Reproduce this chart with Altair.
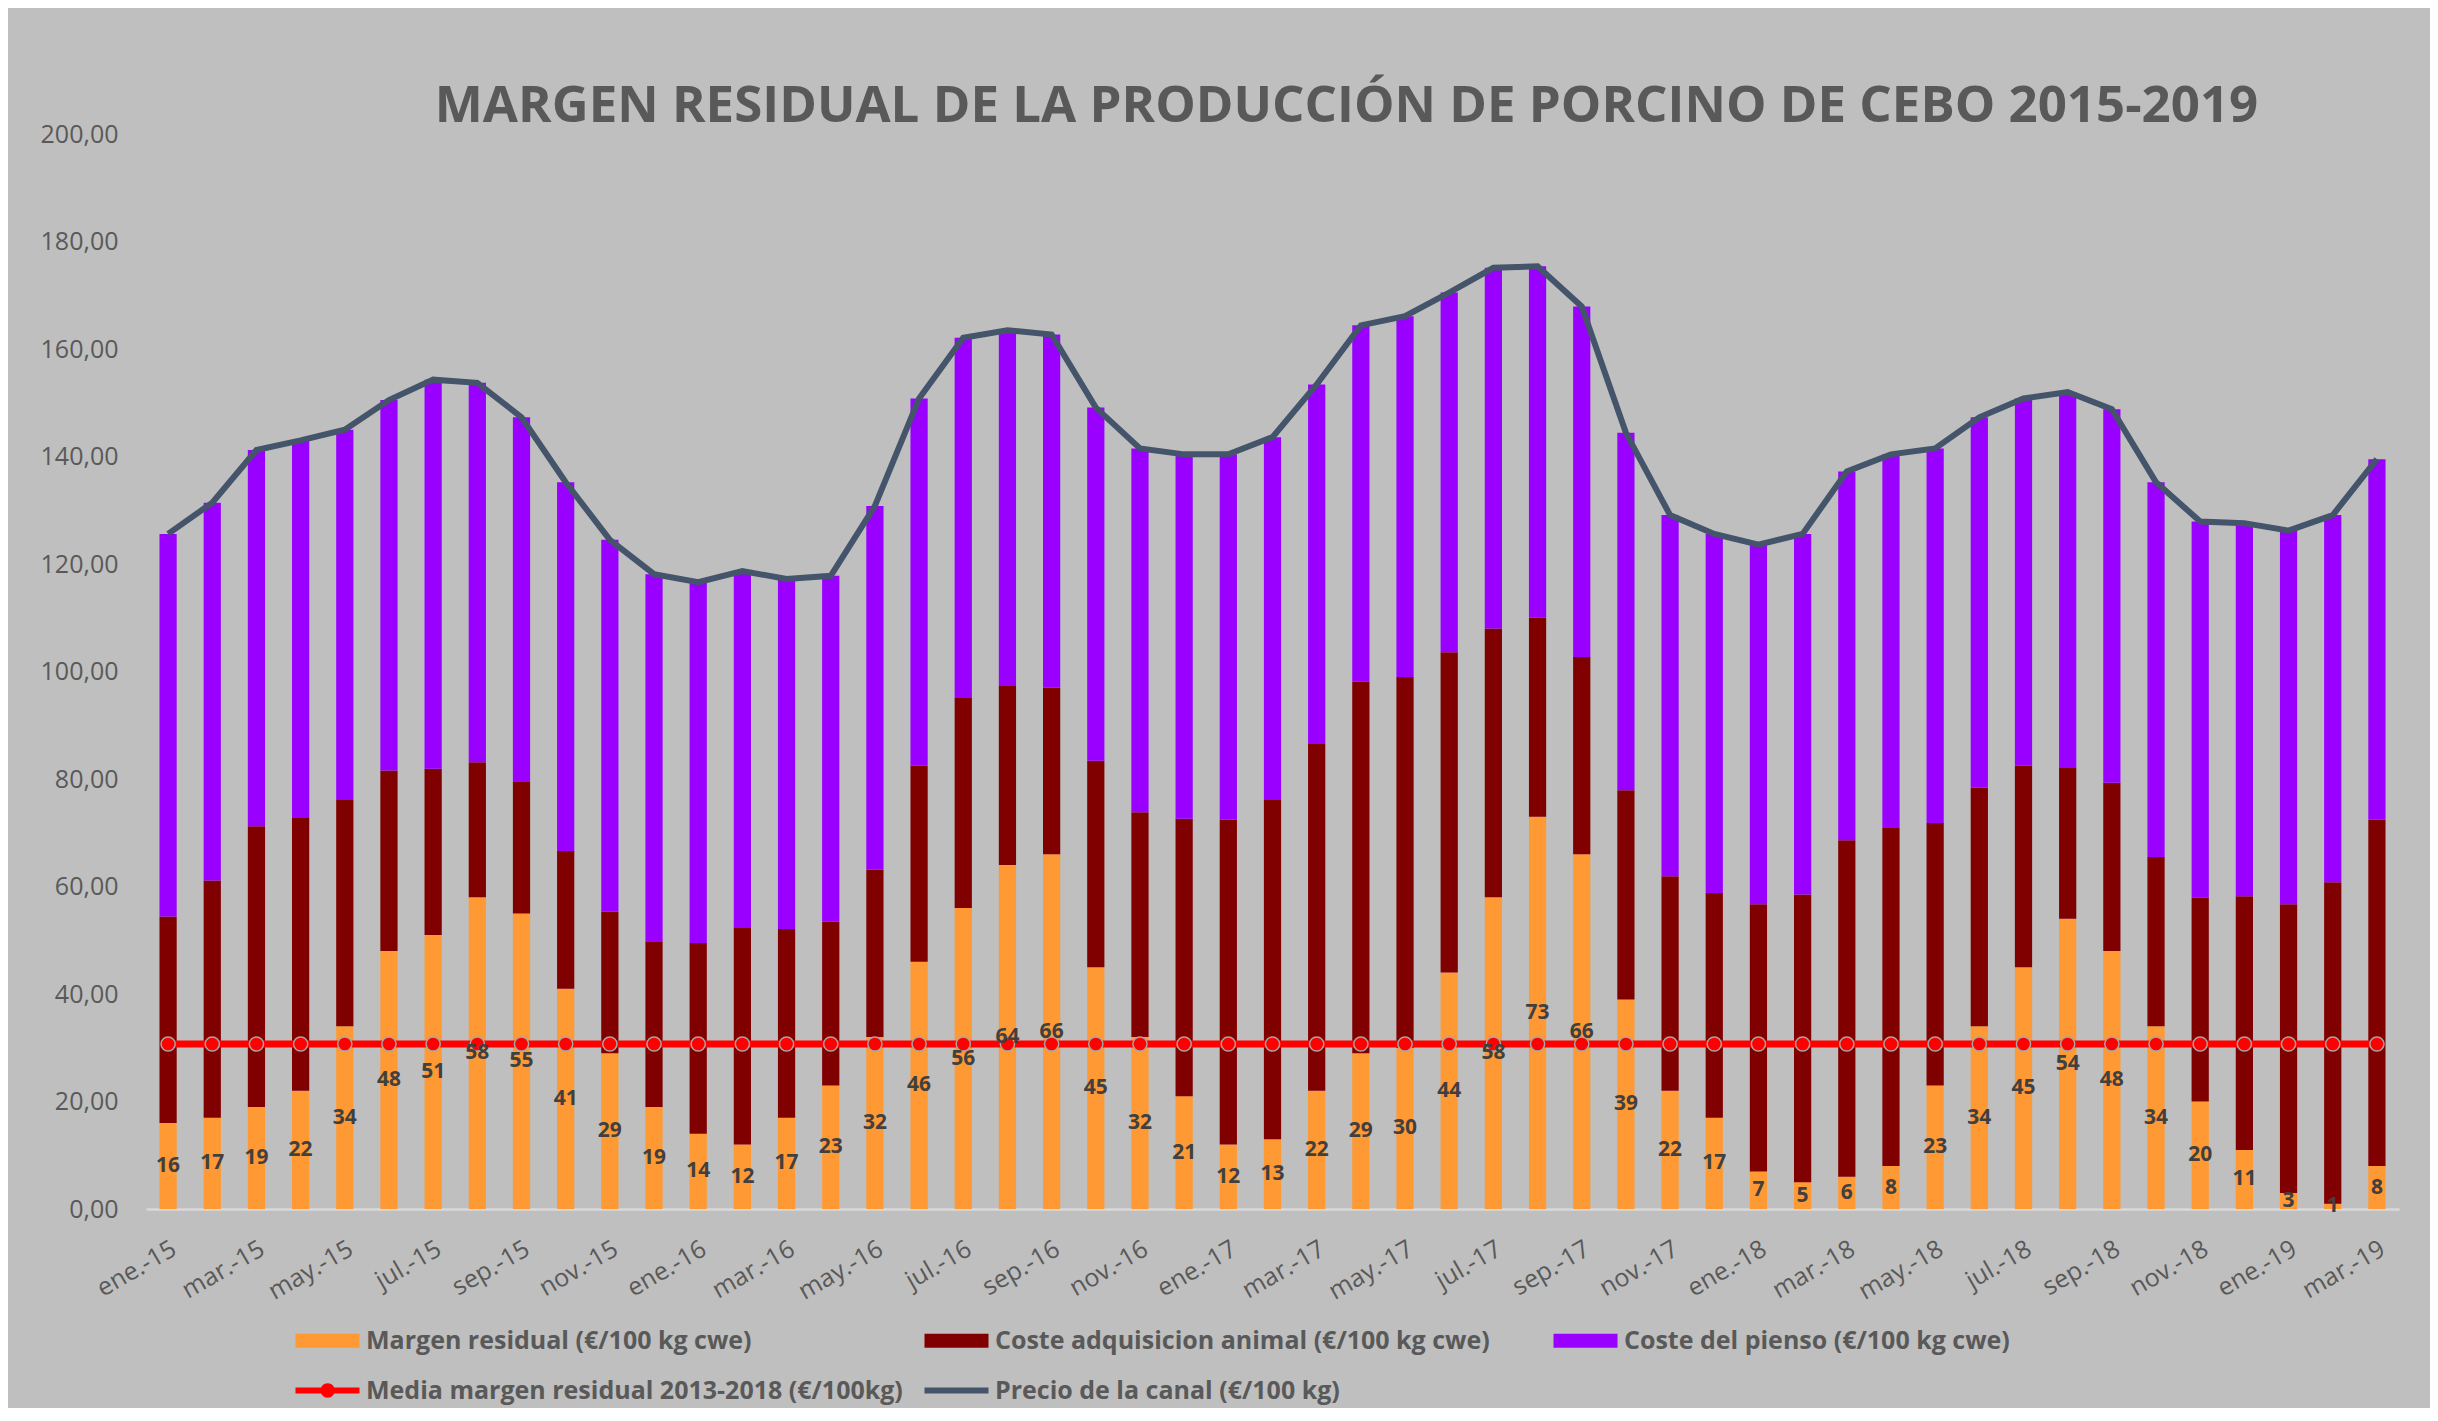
import altair as alt
import pandas as pd

MESES = [
    "ene.-15", "feb.-15", "mar.-15", "abr.-15", "may.-15", "jun.-15", "jul.-15", "ago.-15", "sep.-15", "oct.-15", "nov.-15", "dic.-15",
    "ene.-16", "feb.-16", "mar.-16", "abr.-16", "may.-16", "jun.-16", "jul.-16", "ago.-16", "sep.-16", "oct.-16", "nov.-16", "dic.-16",
    "ene.-17", "feb.-17", "mar.-17", "abr.-17", "may.-17", "jun.-17", "jul.-17", "ago.-17", "sep.-17", "oct.-17", "nov.-17", "dic.-17",
    "ene.-18", "feb.-18", "mar.-18", "abr.-18", "may.-18", "jun.-18", "jul.-18", "ago.-18", "sep.-18", "oct.-18", "nov.-18", "dic.-18",
    "ene.-19", "feb.-19", "mar.-19",
]
EJE_X = ["ene.-15", "mar.-15", "may.-15", "jul.-15", "sep.-15", "nov.-15",
         "ene.-16", "mar.-16", "may.-16", "jul.-16", "sep.-16", "nov.-16",
         "ene.-17", "mar.-17", "may.-17", "jul.-17", "sep.-17", "nov.-17",
         "ene.-18", "mar.-18", "may.-18", "jul.-18", "sep.-18", "nov.-18",
         "ene.-19", "mar.-19"]
EJE_Y = [0, 20, 40, 60, 80, 100, 120, 140, 160, 180, 200]

MARGEN = [16, 17, 19, 22, 34, 48, 51, 58, 55, 41, 29, 19,
          14, 12, 17, 23, 32, 46, 56, 64, 66, 45, 32, 21,
          12, 13, 22, 29, 30, 44, 58, 73, 66, 39, 22, 17,
          7, 5, 6, 8, 23, 34, 45, 54, 48, 34, 20, 11,
          3, 1, 8]
COSTE_ANIMAL = [38.4, 44.1, 52.2, 50.9, 42.1, 33.6, 30.9, 25.1, 24.6, 25.6, 26.3, 30.8,
                35.5, 40.4, 35.1, 30.5, 31.1, 36.5, 39.2, 33.3, 31.0, 38.4, 41.8, 51.6,
                60.4, 63.1, 64.5, 69.1, 69.0, 59.6, 50.0, 37.0, 36.7, 38.9, 39.9, 41.8,
                49.7, 53.5, 62.6, 62.9, 48.8, 44.4, 37.5, 28.2, 31.3, 31.5, 37.9, 47.2,
                53.7, 59.8, 64.4]
COSTE_PIENSO = [71.2, 70.3, 70.0, 70.1, 68.9, 68.9, 72.4, 70.6, 67.7, 68.6, 69.2, 68.3,
                67.1, 66.3, 65.1, 64.3, 67.7, 68.3, 66.9, 66.2, 65.7, 65.7, 67.7, 67.8,
                68.0, 67.5, 66.9, 66.3, 67.1, 66.9, 67.1, 65.4, 65.2, 66.5, 67.2, 66.8,
                66.9, 67.1, 68.6, 69.5, 69.7, 68.9, 68.3, 69.8, 69.5, 69.7, 70.0, 69.4,
                69.5, 68.3, 67.1]
PRECIO = [125.6, 131.4, 141.2, 143.0, 145.0, 150.5, 154.3, 153.7, 147.3, 135.2, 124.5, 118.1,
          116.6, 118.7, 117.2, 117.8, 130.8, 150.8, 162.1, 163.5, 162.7, 149.1, 141.5, 140.4,
          140.4, 143.6, 153.4, 164.4, 166.1, 170.5, 175.1, 175.4, 167.9, 144.4, 129.1, 125.6,
          123.6, 125.6, 137.2, 140.4, 141.5, 147.3, 150.8, 152.0, 148.8, 135.2, 127.9, 127.6,
          126.2, 129.1, 139.5]
MEDIA = 30.7

S_MARGEN = "Margen residual (€/100 kg cwe)"
S_ANIMAL = "Coste adquisicion animal (€/100 kg cwe)"
S_PIENSO = "Coste del pienso (€/100 kg cwe)"
S_MEDIA = "Media margen residual 2013-2018 (€/100kg)"
S_PRECIO = "Precio de la canal (€/100 kg)"

# legend order (filled column by column: 2 rows x 3 columns)
SERIES = [S_MARGEN, S_MEDIA, S_ANIMAL, S_PRECIO, S_PIENSO]
COLORES = ["#FF9933", "#FF0000", "#800000", "#44546A", "#9900FF"]

TITULO = "MARGEN RESIDUAL DE LA PRODUCCIÓN DE PORCINO DE CEBO 2015-2019"

# ---- tables ----
rows = []
for i, m in enumerate(MESES):
    for k, (s, vals) in enumerate([(S_MARGEN, MARGEN), (S_ANIMAL, COSTE_ANIMAL), (S_PIENSO, COSTE_PIENSO)]):
        rows.append({"mes": m, "serie": s, "valor": vals[i], "orden": k})
df_bars = pd.DataFrame(rows)
df_lin = pd.DataFrame({"mes": MESES, "precio": PRECIO, "margen": MARGEN,
                       "media": [MEDIA] * len(MESES)})

FONT = "Open Sans"
GRIS = "#595959"

xscale = alt.Scale(domain=MESES, paddingInner=0.61, paddingOuter=0.305)
xaxis = alt.Axis(values=EJE_X, title=None, labelAngle=330, labelAlign="right",
                 labelBaseline="top", labelPadding=27, labelFont=FONT, labelFontSize=25,
                 labelColor=GRIS, ticks=False, domainColor="#D9D9D9", domainWidth=2.5,
                 grid=False)
yscale = alt.Scale(domain=[0, 200], nice=False, zero=True)
yaxis = alt.Axis(values=EJE_Y, title=None, labelFont=FONT, labelFontSize=25, labelColor=GRIS,
                 ticks=False, tickSize=0, domain=False, grid=False, labelPadding=28,
                 labelExpr="replace(format(datum.value, '.2f'), '.', ',')")

# legend symbol paths (size 400 -> unit = 10px; symbol spans 0..64px)
P_RECT = "M-1,-0.7H5.4V0.7H-1Z"
P_MEDIA = "M-1,-0.3H5.4V0.3H-1Z M1.5,0A0.72,0.72 0 1,1 2.94,0A0.72,0.72 0 1,1 1.5,0Z"
P_LINEA = "M-1,-0.3H5.4V0.3H-1Z"
shape_expr = ("datum.label === '%s' ? '%s' : (datum.label === '%s' ? '%s' : '%s')"
              % (S_MEDIA, P_MEDIA, S_PRECIO, P_LINEA, P_RECT))

legend = alt.Legend(
    title=None, orient="none", legendX=147, legendY=1194, columns=3, gridAlign="all",
    columnPadding=19, rowPadding=24, symbolSize=400, symbolStrokeWidth=0,
    symbolType=alt.ExprRef(shape_expr), symbolOpacity=1,
    labelOffset=48, labelFont=FONT, labelFontSize=25, labelFontWeight="bold",
    labelColor=GRIS, labelLimit=1200, padding=0,
)

bars = alt.Chart(df_bars).mark_bar().encode(
    x=alt.X("mes:N", scale=xscale, axis=xaxis),
    y=alt.Y("valor:Q", stack="zero", scale=yscale, axis=yaxis),
    color=alt.Color("serie:N", scale=alt.Scale(domain=SERIES, range=COLORES), legend=legend),
    order=alt.Order("orden:Q", sort="ascending"),
)

precio = alt.Chart(df_lin).mark_line(color="#44546A", strokeWidth=6).encode(
    x=alt.X("mes:N", scale=xscale, axis=xaxis),
    y=alt.Y("precio:Q", scale=yscale, axis=yaxis),
)

media_line = alt.Chart(df_lin).mark_line(color="#FF0000", strokeWidth=7).encode(
    x=alt.X("mes:N", scale=xscale, axis=xaxis),
    y=alt.Y("media:Q", scale=yscale, axis=yaxis),
)
media_pts = alt.Chart(df_lin).mark_circle(size=200, color="#FF0000", opacity=1,
                                          stroke="#A6A6A6", strokeWidth=1.5).encode(
    x=alt.X("mes:N", scale=xscale, axis=xaxis),
    y=alt.Y("media:Q", scale=yscale, axis=yaxis),
)

labels = alt.Chart(df_lin).transform_calculate(mid="datum.margen / 2").mark_text(
    font=FONT, fontWeight="bold", fontSize=21, color="#404040", baseline="middle"
).encode(
    x=alt.X("mes:N", scale=xscale, axis=xaxis),
    y=alt.Y("mid:Q", scale=yscale, axis=yaxis),
    text=alt.Text("margen:Q", format=".0f"),
)

chart = alt.layer(bars, precio, media_line, media_pts, labels).properties(
    width=2253, height=1075,
    title=alt.TitleParams(text=TITULO, font=FONT, fontSize=51, fontWeight="bold",
                          color=GRIS, anchor="middle", dx=74, dy=62, offset=11,
                          baseline="alphabetic"),
    autosize=alt.AutoSizeParams(type="none"),
    padding={"left": 138, "top": 126, "right": 31, "bottom": 199},
    background="#BFBFBF",
).configure_view(stroke=None)

chart.save("out.html", embed_options={"renderer": "svg", "actions": False})
